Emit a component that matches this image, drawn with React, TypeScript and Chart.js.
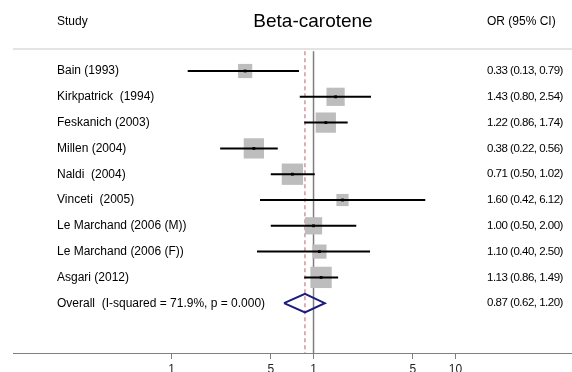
import React, { useEffect, useRef } from "react";
import { Chart, registerables } from "chart.js";

Chart.register(...registerables);

const studies = [
  "Bain (1993)",
  "Kirkpatrick  (1994)",
  "Feskanich (2003)",
  "Millen (2004)",
  "Naldi  (2004)",
  "Vinceti  (2005)",
  "Le Marchand (2006 (M))",
  "Le Marchand (2006 (F))",
  "Asgari (2012)",
];
const orValues = [0.33, 1.43, 1.22, 0.38, 0.71, 1.6, 1.0, 1.1, 1.13];
const lowerCI = [0.13, 0.8, 0.86, 0.22, 0.5, 0.42, 0.5, 0.4, 0.86];
const upperCI = [0.79, 2.54, 1.74, 0.56, 1.02, 6.12, 2.0, 2.5, 1.49];
const weights = [6.9, 11.4, 14.1, 14.1, 15.6, 5.1, 10.2, 6.9, 15.6];
const overallLabel = "Overall  (I-squared = 71.9%, p = 0.000)";
const overallOR = 0.87;
const overallLower = 0.62;
const overallUpper = 1.2;
const tickValues = [0.1, 0.5, 1, 5, 10];
const tickLabels = ["1", "5", "1", "5", "10"];
const title = "Beta-carotene";

const fmt = (v: number) => v.toFixed(2);

export default function App() {
  const ref = useRef<HTMLCanvasElement | null>(null);

  useEffect(() => {
    if (!ref.current) return;
    const FONT = "'Liberation Sans', Arial, sans-serif";
    const Y_MIN = 0.147;
    const Y_MAX = 11.93;
    const nRows = studies.length;
    const overallRow = nRows + 1;

    const ciDatasets = studies.map((_, i) => ({
      data: [
        { x: lowerCI[i], y: i + 1 },
        { x: upperCI[i], y: i + 1 },
      ],
      showLine: true,
      borderColor: "#000000",
      borderWidth: 2,
      pointRadius: 0,
    }));

    const setOrFont = (ctx: any) => {
      ctx.font = `11.5px ${FONT}`;
      try {
        ctx.letterSpacing = "-0.5px";
      } catch (e) {}
    };
    const setLabelFont = (ctx: any) => {
      ctx.font = `12px ${FONT}`;
      try {
        ctx.letterSpacing = "0px";
      } catch (e) {}
    };

    const textPlugin = {
      id: "forestText",
      afterDraw(chart: any) {
        const ctx = chart.ctx;
        const y = chart.scales.y;
        const area = chart.chartArea;
        ctx.save();
        ctx.strokeStyle = "#e4e4e4";
        ctx.lineWidth = 2;
        ctx.beginPath();
        ctx.moveTo(area.left, area.top);
        ctx.lineTo(area.right, area.top);
        ctx.stroke();

        ctx.fillStyle = "#000";
        ctx.textBaseline = "middle";
        const headY = y.getPixelForValue(-0.9);
        setLabelFont(ctx);
        ctx.textAlign = "left";
        ctx.fillText("Study", 57, headY);
        ctx.fillText("OR (95% CI)", 487, headY);
        ctx.font = `19px ${FONT}`;
        ctx.textAlign = "center";
        ctx.fillText(title, 313, headY);

        ctx.textAlign = "left";
        studies.forEach((s, i) => {
          const py = y.getPixelForValue(i + 1);
          setLabelFont(ctx);
          ctx.fillText(s, 57, py);
          setOrFont(ctx);
          ctx.fillText(
            `${fmt(orValues[i])} (${fmt(lowerCI[i])}, ${fmt(upperCI[i])})`,
            487,
            py
          );
        });
        const oy = y.getPixelForValue(overallRow);
        setLabelFont(ctx);
        ctx.fillText(overallLabel, 57, oy);
        setOrFont(ctx);
        ctx.fillText(
          `${fmt(overallOR)} (${fmt(overallLower)}, ${fmt(overallUpper)})`,
          487,
          oy
        );
        setLabelFont(ctx);
        ctx.restore();
      },
    };

    const chart = new Chart(ref.current, {
      type: "scatter",
      data: {
        datasets: [
          {
            data: orValues.map((v, i) => ({ x: v, y: i + 1 })),
            pointStyle: "rect",
            pointRadius: 2,
            backgroundColor: "#000",
            borderWidth: 0,
          },
          ...ciDatasets,
          {
            data: [
              { x: overallLower, y: overallRow },
              { x: overallOR, y: overallRow - 0.36 },
              { x: overallUpper, y: overallRow },
              { x: overallOR, y: overallRow + 0.36 },
              { x: overallLower, y: overallRow },
            ],
            showLine: true,
            borderColor: "#1b1b7e",
            borderWidth: 2,
            pointRadius: 0,
          },
          {
            data: orValues.map((v, i) => ({ x: v, y: i + 1 })),
            pointStyle: "rect",
            pointRadius: weights.map((w) => (5.4 * Math.sqrt(w)) / Math.SQRT2),
            backgroundColor: "#bdbdbd",
            borderWidth: 0,
          },
          {
            data: [
              { x: overallOR, y: 0.23 },
              { x: overallOR, y: Y_MAX },
            ],
            showLine: true,
            borderColor: "#d4959f",
            borderDash: [4, 3],
            borderWidth: 1.5,
            pointRadius: 0,
          },
          {
            data: [
              { x: 1, y: 0.23 },
              { x: 1, y: Y_MAX },
            ],
            showLine: true,
            borderColor: "#7f7f7f",
            borderWidth: 1.5,
            pointRadius: 0,
          },
        ] as any,
      },
      options: {
        animation: false,
        responsive: false,
        maintainAspectRatio: false,
        layout: { autoPadding: false, padding: { left: 13, right: 0, top: 49, bottom: 0 } },
        plugins: {
          legend: { display: false },
          tooltip: { enabled: false },
          title: { display: false },
        },
        scales: {
          x: {
            type: "logarithmic",
            min: 0.00765,
            max: 66.1,
            afterBuildTicks: (scale: any) => {
              scale.ticks = tickValues.map((v) => ({ value: v }));
            },
            afterFit: (scale: any) => {
              scale.height = 19;
            },
            ticks: {
              autoSkip: false,
              maxRotation: 0,
              padding: 3,
              color: "#222",
              font: { family: FONT, size: 12 },
              callback: (value: any) => {
                const idx = tickValues.indexOf(Number(value));
                return idx >= 0 ? tickLabels[idx] : "";
              },
            },
            grid: {
              drawOnChartArea: false,
              drawTicks: true,
              tickLength: 6,
              color: "#7f7f7f",
            },
            border: { display: true, color: "#7f7f7f", width: 1 },
          },
          y: {
            type: "linear",
            display: false,
            reverse: true,
            min: Y_MIN,
            max: Y_MAX,
          },
        },
      } as any,
      plugins: [textPlugin],
    });
    return () => chart.destroy();
  }, []);

  return (
    <div style={{ position: "absolute", left: 0, top: 0, width: 572, height: 372, background: "#fff" }}>
      <canvas ref={ref} width={572} height={372} style={{ display: "block", width: 572, height: 372 }} />
    </div>
  );
}
